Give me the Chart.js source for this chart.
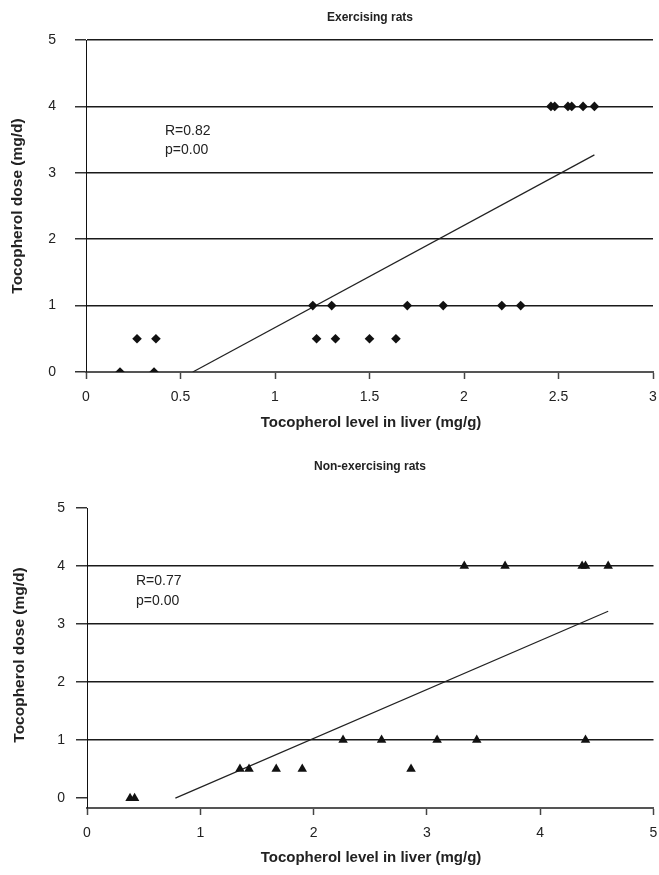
<!DOCTYPE html>
<html><head><meta charset="utf-8">
<script src="https://cdn.jsdelivr.net/npm/chart.js@4.4.1/dist/chart.umd.min.js"></script>
<style>
body{margin:0;background:#fff;width:659px;height:875px;overflow:hidden;position:relative}
.w{position:absolute;left:0;width:659px}
</style>
</head><body>
<div class="w" style="top:0;height:440px"><canvas id="c1"></canvas></div>
<div class="w" style="top:440px;height:435px"><canvas id="c2"></canvas></div>
<script>
// ---- Exercising rats ----
const exLevel = [0.18, 0.36, 0.27, 0.37, 1.22, 1.32, 1.50, 1.64, 1.20, 1.30, 1.70, 1.89, 2.20, 2.30, 2.46, 2.48, 2.55, 2.57, 2.63, 2.69];
const exDose  = [0, 0, 0.5, 0.5, 0.5, 0.5, 0.5, 0.5, 1, 1, 1, 1, 1, 1, 4, 4, 4, 4, 4, 4];
const exFitX = [0.565, 2.69];
const exFitY = [0, 3.27];
const exStats = ["R=0.82", "p=0.00"];

// ---- Non-exercising rats ----
const nonLevel = [0.38, 0.42, 1.35, 1.43, 1.67, 1.90, 2.86, 2.26, 2.60, 3.09, 3.44, 4.40, 3.33, 3.69, 4.37, 4.40, 4.60];
const nonDose  = [0, 0, 0.5, 0.5, 0.5, 0.5, 0.5, 1, 1, 1, 1, 1, 4, 4, 4, 4, 4];
const nonFitX = [0.78, 4.60];
const nonFitY = [0, 3.22];
const nonStats = ["R=0.77", "p=0.00"];

const xTitle = "Tocopherol level in liver (mg/g)";
const yTitle = "Tocopherol dose (mg/d)";

const INK = '#222';
const FONT = '"Liberation Sans", Arial, sans-serif';

function pts(xs, ys){ return xs.map((x,i)=>({x:x, y:ys[i]})); }

function textPlugin(items){
  return {
    id:'txt',
    afterDraw(chart){
      const c = chart.ctx;
      c.save();
      c.fillStyle = INK;
      items.forEach(t=>{
        c.save();
        c.font = t.font;
        c.textAlign = t.align || 'center';
        c.textBaseline = 'middle';
        c.translate(t.x, t.y);
        if (t.rot) c.rotate(t.rot);
        c.fillText(t.text, 0, 0);
        c.restore();
      });
      c.restore();
    }
  };
}

function makeChart(id, cfg){
  const gridCol = cfg.gridCol;
  return new Chart(document.getElementById(id), {
    type:'scatter',
    data:{datasets:[
      {data: pts(cfg.xs, cfg.ys), pointStyle: cfg.marker, pointRadius: cfg.radius,
       backgroundColor:'#111', borderColor:'#111', borderWidth:0, showLine:false},
      {type:'line', data: pts(cfg.fitX, cfg.fitY), borderColor:'#222', borderWidth:1.2,
       pointRadius:0, fill:false, tension:0}
    ]},
    options:{
      responsive:true, maintainAspectRatio:false, animation:false, events:[],
      layout:{padding:{top:cfg.top, right:cfg.right, left:0, bottom:0}},
      plugins:{legend:{display:false}, tooltip:{enabled:false}, title:{display:false}},
      scales:{
        x:{type:'linear', min:0, max:cfg.xMax,
           afterFit(s){ s.height = cfg.xH; s.paddingLeft = 0; s.paddingRight = 0; },
           ticks:{stepSize:cfg.xStep, color:INK, padding:10, maxRotation:0,
                  font:{family:FONT, size:14}, callback:v=>String(v)},
           grid:{drawOnChartArea:false, drawTicks:true, tickLength:7, tickColor:'#444', tickWidth:1.5},
           border:{display:true, color:'#555', width:2}},
        y:{type:'linear', min:cfg.yMin, max:5,
           afterFit(s){ s.width = cfg.yW; s.paddingTop = 0; s.paddingBottom = 0; },
           afterBuildTicks(s){ s.ticks = [0,1,2,3,4,5].map(v=>({value:v})); },
           ticks:{color:INK, padding:cfg.yPad, font:{family:FONT, size:14}, callback:v=>String(v)},
           grid:{drawTicks:true, tickLength:11, lineWidth:1.5,
                 color:c=>gridCol(c.tick ? c.tick.value : null), tickColor:'#333', tickWidth:1.5},
           border:{display:true, color:'#111', width:1}}
      }
    },
    plugins:[textPlugin(cfg.texts)]
  });
}

makeChart('c1', {
  xs: exLevel, ys: exDose, fitX: exFitX, fitY: exFitY,
  marker:'rectRot', radius:4.8, xMax:3, xStep:0.5, yMin:0,
  top:40, right:6, xH:68, yW:86, yPad:19,
  gridCol: v => (v===null ? 'rgba(0,0,0,0)' : '#1a1a1a'),
  texts:[
    {text:'Exercising rats', x:370, y:18, font:'bold 12px '+FONT},
    {text:yTitle, x:18, y:206, rot:-Math.PI/2, font:'bold 15.5px '+FONT},
    {text:xTitle, x:371, y:423, font:'bold 15px '+FONT},
    {text:exStats[0], x:165, y:131, align:'left', font:'14px '+FONT},
    {text:exStats[1], x:165, y:150, align:'left', font:'14px '+FONT}
  ]
});

makeChart('c2', {
  xs: nonLevel, ys: nonDose, fitX: nonFitX, fitY: nonFitY,
  marker:'triangle', radius:5.5, xMax:5, xStep:1, yMin:-0.17,
  top:68, right:4, xH:67, yW:87, yPad:11,
  gridCol: v => ((v>=1 && v<=4) ? '#1a1a1a' : 'rgba(0,0,0,0)'),
  texts:[
    {text:'Non-exercising rats', x:370, y:27, font:'bold 12px '+FONT},
    {text:yTitle, x:20, y:215, rot:-Math.PI/2, font:'bold 15.5px '+FONT},
    {text:xTitle, x:371, y:418, font:'bold 15px '+FONT},
    {text:nonStats[0], x:136, y:141, align:'left', font:'14px '+FONT},
    {text:nonStats[1], x:136, y:161, align:'left', font:'14px '+FONT}
  ]
});
</script>
</body></html>
